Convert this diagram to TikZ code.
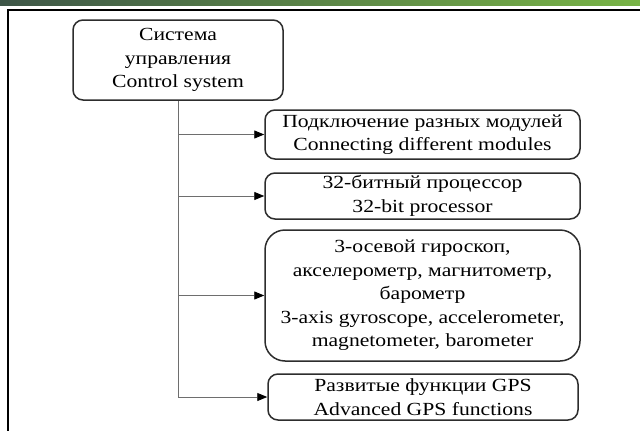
\documentclass[tikz,border=0pt]{standalone}
\usepackage{fontspec}
\setmainfont[FakeStretch=1.17]{Liberation Serif}
\usetikzlibrary{arrows.meta}
\definecolor{bandleft}{RGB}{62,86,72}
\definecolor{bandright}{RGB}{120,180,70}
\definecolor{boxline}{RGB}{45,45,45}
\definecolor{connline}{RGB}{110,110,110}
\tikzset{
  block/.style={draw=boxline, line width=1.5pt, rounded corners=10pt, align=center,
    inner sep=0pt, font=\fontsize{18.5}{23.5}\selectfont},
  conn/.style={draw=connline, line width=0.9pt},
  arr/.style={conn, -{Triangle[length=10pt,width=8pt,black]}}
}
\begin{document}
\begin{tikzpicture}[x=1pt,y=-1pt]
\useasboundingbox (0,0) rectangle (640,431);
% page frame
\shade[left color=bandleft, right color=bandright] (0,0) rectangle (640,5);
\draw[line width=1.5pt] (8,431) -- (8,10) -- (640,10);
% blocks
\node[block, minimum width=210pt, minimum height=80pt] (ctrl) at (178,60)
  {Система\\управления\\Control system};
\node[block, minimum width=315pt, minimum height=49pt] (m1) at (422.5,134.5)
  {Подключение разных модулей\\Connecting different modules};
\node[block, minimum width=315pt, minimum height=46pt] (m2) at (422.5,196)
  {32-битный процессор\\32-bit processor};
\node[block, rounded corners=20pt, minimum width=315pt, minimum height=131pt] (m3) at (422.5,295.5)
  {3-осевой гироскоп,\\акселерометр, магнитометр,\\барометр\\3-axis gyroscope, accelerometer,\\magnetometer, barometer};
\node[block, minimum width=310pt, minimum height=46pt] (m4) at (423,397)
  {Развитые функции GPS\\Advanced GPS functions};
% connectors
\draw[arr] (ctrl.south) |- (m4.west);
\draw[arr] (ctrl.south |- m1.west) -- (m1.west);
\draw[arr] (ctrl.south |- m2.west) -- (m2.west);
\draw[arr] (ctrl.south |- m3.west) -- (m3.west);
\end{tikzpicture}
\end{document}
